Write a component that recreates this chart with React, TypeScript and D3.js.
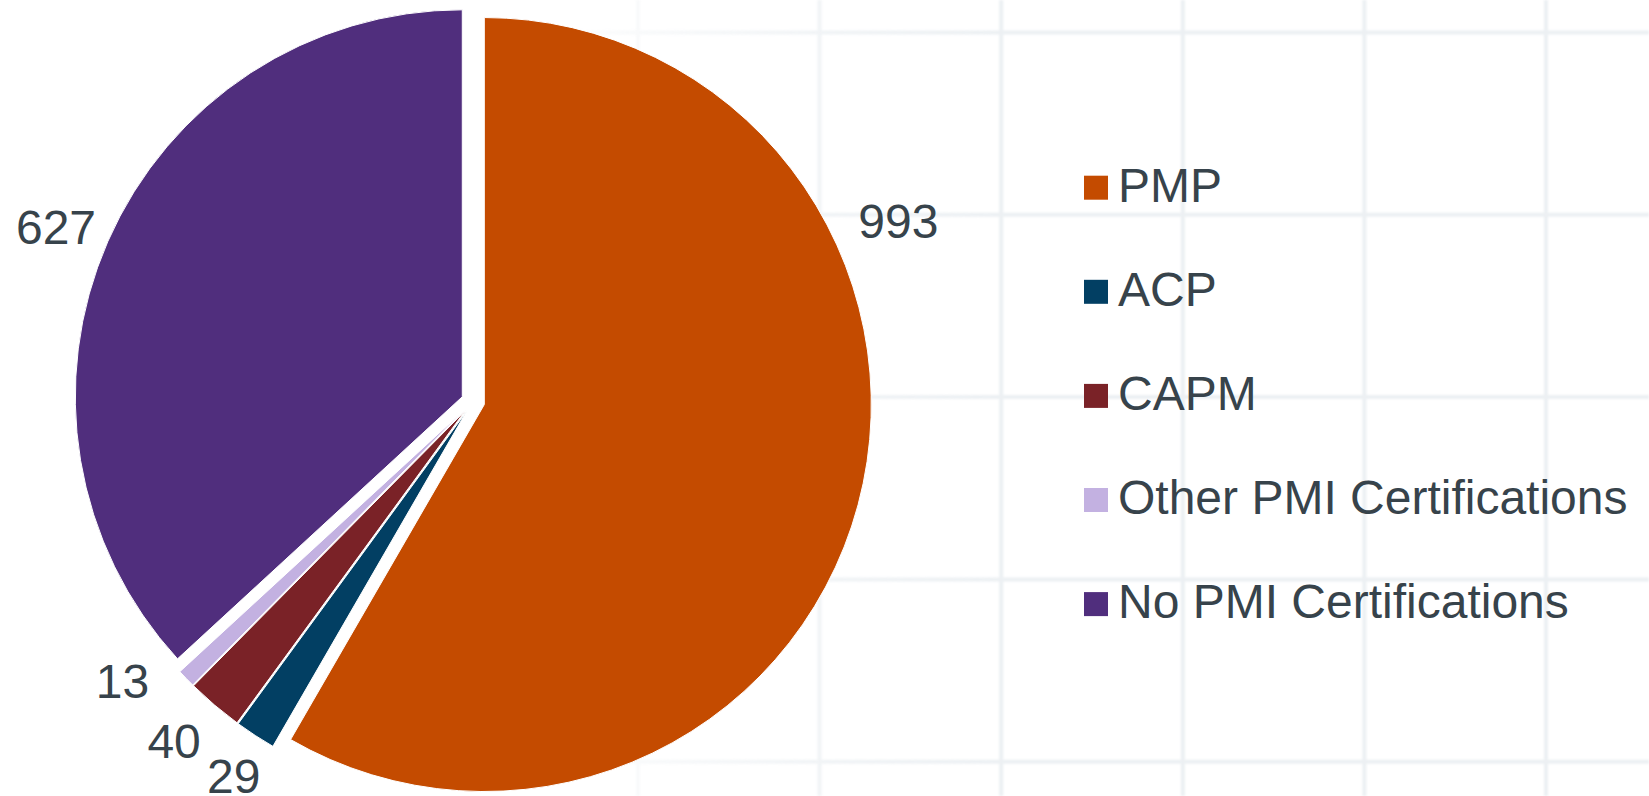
import React from "react";
import * as d3 from "d3";

const categories = ["PMP", "ACP", "CAPM", "Other PMI Certifications", "No PMI Certifications"];
const values = [993, 29, 40, 13, 627];
const colors = ["#C44B00", "#023F63", "#7A2227", "#C3B1E1", "#502E7D"];
// value-label layout tweaks (angle in degrees, radial offset) mimicking the reference label layout
const labelNudgeDeg = [-38, -0.5, 1, 5.5, -1];
const labelRadialAdj = [10, -8, 0, -4, 0];

const W = 1649;
const H = 796;
const FONT = "'Liberation Sans', Arial, Helvetica, sans-serif";
const TEXT = "#37434B";
const FS = 48;

export default function App() {
  const cx = 473;
  const cy = 401.5;
  const R = 387;
  const explode = 11.7;
  const labelR = 452;

  const pie = d3
    .pie<number>()
    .sort(null)
    .value((d) => d)
    .startAngle(0)
    .endAngle(2 * Math.PI);
  const arcs = pie(values);
  const arc = d3.arc<d3.PieArcDatum<number>>().innerRadius(0).outerRadius(R);

  const gridX = d3.range(638, W, 181.6);
  const gridY = d3.range(32.5, H, 182.3);

  const legendY = d3
    .scaleLinear()
    .domain([0, categories.length - 1])
    .range([201.7, 201.7 + 104.1 * (categories.length - 1)]);

  return (
    <svg
      width={W}
      height={H}
      style={{ position: "absolute", left: 0, top: 0, background: "#ffffff" }}
    >
      <defs>
        <linearGradient id="gridFade" x1="0" y1="0" x2={W} y2="0" gradientUnits="userSpaceOnUse">
          <stop offset={540 / W} stopColor="#ffffff" stopOpacity={0} />
          <stop offset={640 / W} stopColor="#ffffff" stopOpacity={0.35} />
          <stop offset={820 / W} stopColor="#ffffff" stopOpacity={0.75} />
          <stop offset={1000 / W} stopColor="#ffffff" stopOpacity={1} />
          <stop offset={1} stopColor="#ffffff" stopOpacity={1} />
        </linearGradient>
        <mask id="gridMask">
          <rect x={0} y={0} width={W} height={H} fill="url(#gridFade)" />
        </mask>
        <filter id="soft" x="-5%" y="-5%" width="110%" height="110%">
          <feGaussianBlur stdDeviation="1" />
        </filter>
      </defs>

      <g mask="url(#gridMask)" filter="url(#soft)">
        {gridX.map((x, i) => (
          <line key={"gx" + i} x1={x} x2={x} y1={0} y2={H} stroke="#ECF0F3" strokeWidth={4} />
        ))}
        {gridY.map((y, i) => (
          <line key={"gy" + i} x1={0} x2={W} y1={y} y2={y} stroke="#ECF0F3" strokeWidth={4} />
        ))}
      </g>

      <g transform={`translate(${cx},${cy})`}>
        {arcs.map((a, i) => {
          const mid = (a.startAngle + a.endAngle) / 2;
          const dx = explode * Math.sin(mid);
          const dy = -explode * Math.cos(mid);
          return (
            <path
              key={categories[i]}
              d={arc(a) || ""}
              transform={`translate(${dx},${dy})`}
              fill={colors[i]}
              stroke="#ffffff"
              strokeWidth={1}
              strokeLinejoin="round"
            />
          );
        })}
        {arcs.map((a, i) => {
          const mid = (a.startAngle + a.endAngle) / 2 + (labelNudgeDeg[i] * Math.PI) / 180;
          const r = labelR + labelRadialAdj[i];
          const x = r * Math.sin(mid);
          const y = -r * Math.cos(mid);
          return (
            <text
              key={"lbl" + i}
              x={x}
              y={y + 0.358 * FS}
              textAnchor="middle"
              fontFamily={FONT}
              fontSize={FS}
              fill={TEXT}
            >
              {values[i]}
            </text>
          );
        })}
      </g>

      <g>
        {categories.map((c, i) => (
          <g key={"leg" + i}>
            <rect x={1084} y={legendY(i) - 14 - 12} width={24} height={24} fill={colors[i]} />
            <text x={1118} y={legendY(i)} fontFamily={FONT} fontSize={FS} fill={TEXT}>
              {c}
            </text>
          </g>
        ))}
      </g>
    </svg>
  );
}
